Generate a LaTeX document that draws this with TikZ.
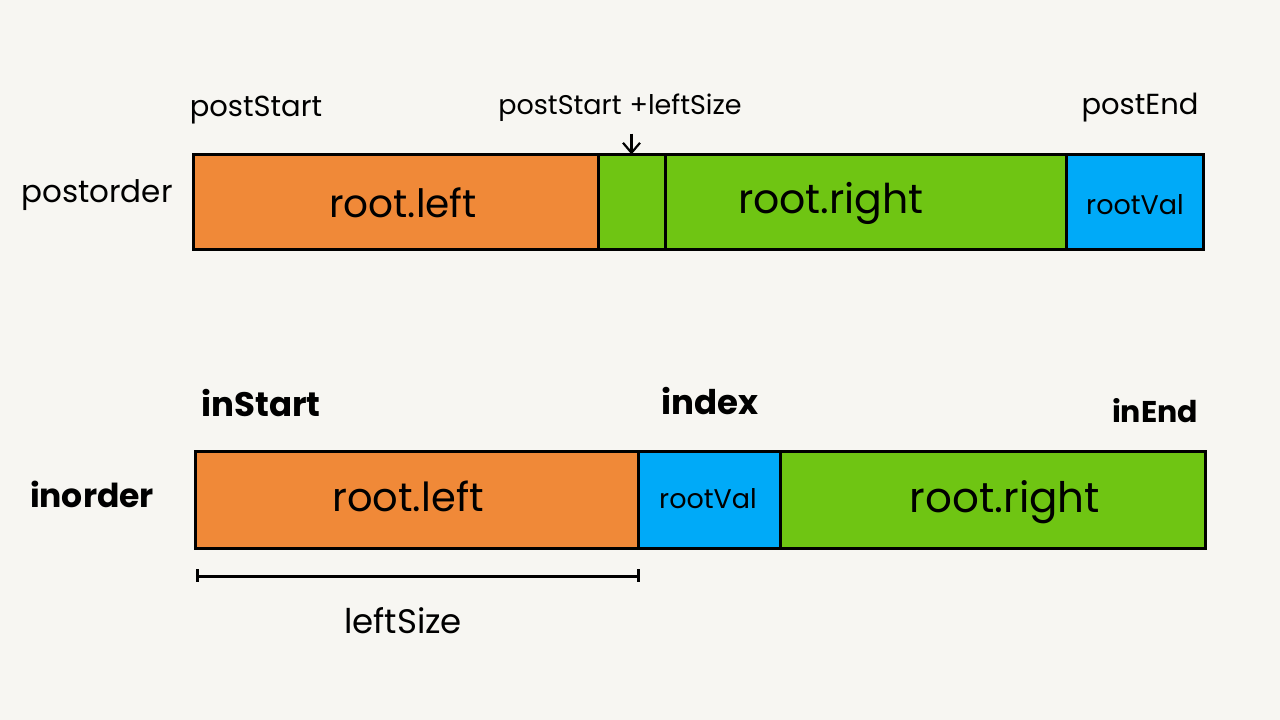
\documentclass[tikz,border=0pt]{standalone}
\usepackage{fontspec}
\setmainfont{Poppins}
\usetikzlibrary{calc,arrows.meta}
\definecolor{bgpaper}{RGB}{247,246,242}
\definecolor{segorange}{RGB}{240,137,56}
\definecolor{seggreen}{RGB}{111,197,19}
\definecolor{segblue}{RGB}{0,170,248}
\newcommand{\fsz}[1]{\fontsize{#1}{#1}\selectfont}
\tikzset{
  seg/.style={draw=black, line width=3pt, rectangle, inner sep=0pt, outer sep=0pt,
              anchor=west},
  txt/.style={inner sep=0pt, text=black},
}
\begin{document}
\begin{tikzpicture}[x=1pt,y=-1pt]
  \fill[bgpaper] (0,0) rectangle (1280,720);
  \useasboundingbox (0,0) rectangle (1280,720);

  % postorder array
  \node[seg, fill=segorange, minimum width=405pt, minimum height=95pt] (pl) at (193,202) {};
  \node[seg, fill=seggreen, minimum width=67pt, minimum height=95pt] (pm) at (pl.east) {};
  \node[seg, fill=seggreen, minimum width=401pt, minimum height=95pt] (pr) at (pm.east) {};
  \node[seg, fill=segblue, minimum width=137pt, minimum height=95pt] (pv) at (pr.east) {};

  \node[txt, font=\fsz{39}] (plt) at (403,203) {root.left};
  \node[txt, font=\fsz{41}] (prt) at (831,203) {root.right};
  \node[txt, font=\fsz{27}] (pvt) at (1135,205) {rootVal};

  \node[txt, font=\fsz{31}] (postorder) at (97,195) {postorder};
  \node[txt, font=\fsz{29}] (postStart) at (256,110) {postStart};
  \node[txt, font=\fsz{27}] (postMid) at (620,108) {postStart\hspace{8pt}+leftSize};
  \node[txt, font=\fsz{29}] (postEnd) at (1140,108) {postEnd};
  \draw[line width=2.2pt, -{Straight Barb[length=10pt,width=17pt]}]
    ($(pm.north)+(0,-21)$) -- (pm.north);

  % inorder array
  \node[seg, fill=segorange, minimum width=443pt, minimum height=97pt] (il) at (195,499.5) {};
  \node[seg, fill=segblue, minimum width=142pt, minimum height=97pt] (iv) at (il.east) {};
  \node[seg, fill=seggreen, minimum width=425pt, minimum height=97pt] (ir) at (iv.east) {};

  \node[txt, font=\fsz{40}] (ilt) at (408,496) {root.left};
  \node[txt, font=\fsz{27}] (ivt) at (708,499) {rootVal};
  \node[txt, font=\fsz{42}] (irt) at (1005,502) {root.right};

  \node[txt, font=\fsz{33}\bfseries] (inorder) at (92,494) {inorder};
  \node[txt, font=\fsz{34}\bfseries] (inStart) at (261,403) {inStart};
  \node[txt, font=\fsz{34}\bfseries] (index) at (710,401) {index};
  \node[txt, font=\fsz{30}\bfseries] (inEnd) at (1155,411) {inEnd};

  % size bracket under the left part
  \coordinate (bl) at ($(il.south west)+(2,28)$);
  \coordinate (br) at ($(il.south east)+(0,28)$);
  \draw[line width=3pt] (bl) -- (br);
  \draw[line width=3pt] ($(bl)+(0,-7)$) -- ($(bl)+(0,6)$);
  \draw[line width=3pt] ($(br)+(0,-7)$) -- ($(br)+(0,6)$);
  \node[txt, font=\fsz{34}] (leftSize) at (403,621) {leftSize};
\end{tikzpicture}
\end{document}
